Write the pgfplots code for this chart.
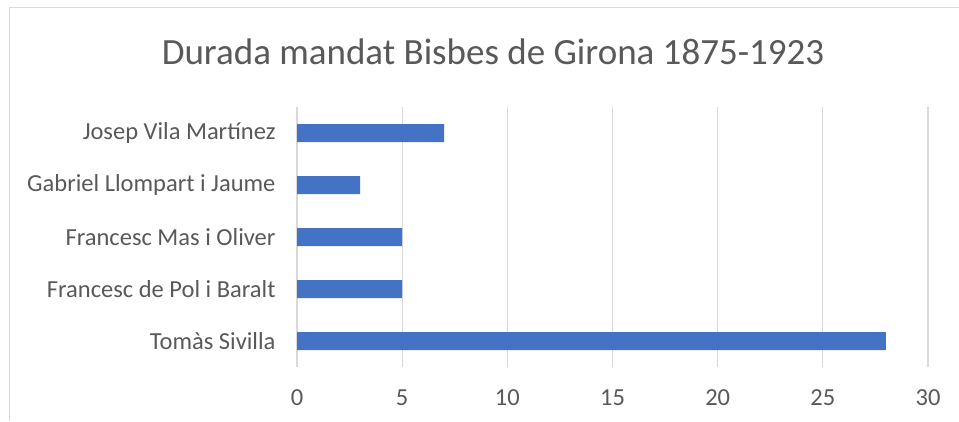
\documentclass[border=0pt]{standalone}
\usepackage{pgfplots}
\pgfplotsset{compat=1.18}
\usepackage{fontspec}
\setmainfont{Carlito}
\definecolor{txt}{HTML}{595959}
\definecolor{grd}{HTML}{D9D9D9}
\definecolor{bar}{HTML}{4472C4}
\begin{document}
\begin{tikzpicture}[x=1bp,y=1bp]
\useasboundingbox (0,0) rectangle (959,421);
\fill[white] (0,0) rectangle (959,421);
\draw[grd, line width=1bp] (9,0) -- (9,413) -- (959,413);
\node[txt, font=\fontsize{37bp}{43bp}\selectfont] at (493,369) {Durada mandat Bisbes de Girona 1875-1923};
\begin{axis}[
  at={(297bp,54bp)}, anchor=south west,
  scale only axis, width=631bp, height=260bp,
  xbar, bar width=18bp,
  xmin=0, xmax=30, ymin=-0.5, ymax=4.5,
  xtick={0,5,...,30},
  ytick={0,1,2,3,4},
  yticklabels={Tomàs Sivilla, Francesc de Pol i Baralt, Francesc Mas i Oliver, Gabriel Llompart i Jaume\ , Josep Vila Martínez},
  axis line style={draw=none},
  major tick length=0pt,
  xmajorgrids, grid style={grd, line width=1.2bp},
  /pgf/number format/assume math mode=true,
  tick label style={txt, font=\fontsize{24.5bp}{28bp}\selectfont},
  xticklabel style={yshift=-19bp},
  yticklabel style={xshift=-18bp},
]
\addplot[fill=bar, draw=none] coordinates {(28,0) (5,1) (5,2) (3,3) (7,4)};
\end{axis}
\end{tikzpicture}
\end{document}
